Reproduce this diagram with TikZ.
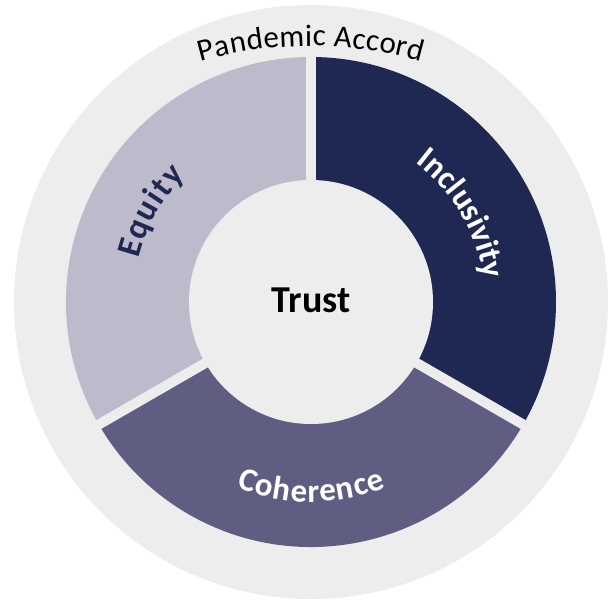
\documentclass[tikz,border=0pt]{standalone}
\usepackage{fontspec}
\setmainfont{Carlito}
\usetikzlibrary{decorations.text}

\definecolor{ringgray}{HTML}{EDEDED}
\definecolor{equityfill}{HTML}{BDBACC}
\definecolor{inclfill}{HTML}{1F2853}
\definecolor{cohfill}{HTML}{5F5D82}

\tikzset{
  arclabel/.style={decorate, decoration={text along path, text align={fit to path}, text={#1}}},
}

\begin{document}
\begin{tikzpicture}[x=1pt,y=1pt]
        % Canvas
        \useasboundingbox (-311,-298) rectangle (305,302);
        % Outer ring
        \fill[ringgray] (0,0) circle (297);
        % Segments
        \fill[equityfill] (0,0) -- (210:245) arc (210:90:245) -- cycle;
        \fill[inclfill] (0,0) -- (90:245) arc (90:-30:245) -- cycle;
        \fill[cohfill] (0,0) -- (-30:245) arc (-30:-150:245) -- cycle;
        % Gaps
        \foreach \a in {90,-30,210}
          \draw[ringgray, line width=10pt] (0,0) -- (\a:252);
        % Centre
        \fill[ringgray] (0,0) circle (122);
        \node[font=\fontsize{38}{40}\selectfont\bfseries] (trust) at (0,2) {Trust};
        % Curved labels
        \path[arclabel={|\fontsize{31}{33}\selectfont|Pandemic Accord}] (0,-144) ++(106:400) arc (106:74:400);
        \path[arclabel={|\fontsize{34}{36}\selectfont\bfseries\color{inclfill}|Equity}] (166:178) arc (166:135:178);
        \path[arclabel={|\fontsize{33}{35}\selectfont\bfseries\color{white}|Inclusivity}] (53:174) arc (53:8:174);
        \path[arclabel={|\fontsize{33}{35}\selectfont\bfseries\color{white}|Coherence}] (248:200) arc (248:292:200);
    \end{tikzpicture}
\end{document}
